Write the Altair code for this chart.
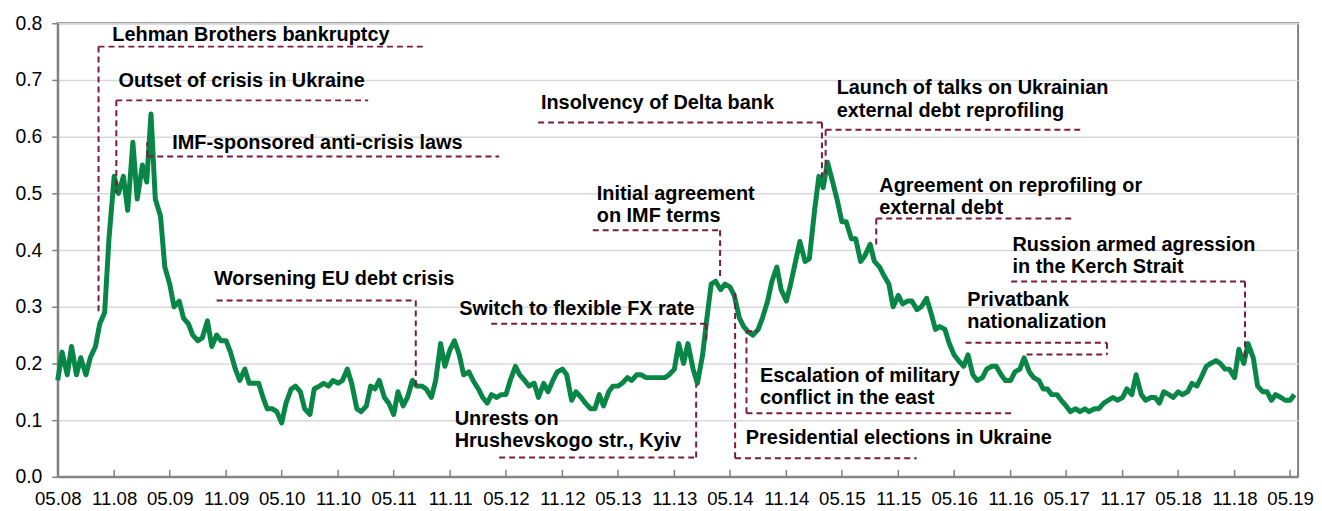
import altair as alt
import pandas as pd

# Semi-monthly readings (1st and 15th of each month) starting May 2008
values = [
    0.17, 0.22, 0.18, 0.23, 0.18, 0.21, 0.18, 0.21, 0.23, 0.27, 0.29, 0.42, 0.53, 0.50, 0.53, 0.47,
    0.59, 0.49, 0.55, 0.52, 0.64, 0.49, 0.46, 0.37, 0.34, 0.30, 0.31, 0.28, 0.27, 0.25, 0.24, 0.245,
    0.275, 0.23, 0.25, 0.24, 0.24, 0.22, 0.19, 0.17, 0.19, 0.165, 0.165, 0.165, 0.14, 0.12, 0.12, 0.115,
    0.095, 0.13, 0.155, 0.16, 0.15, 0.12, 0.11, 0.155, 0.16, 0.165, 0.16, 0.17, 0.165, 0.17, 0.19, 0.165,
    0.12, 0.115, 0.125, 0.16, 0.155, 0.17, 0.14, 0.13, 0.11, 0.15, 0.125, 0.14, 0.17, 0.16, 0.16, 0.155,
    0.14, 0.17, 0.235, 0.195, 0.225, 0.24, 0.215, 0.18, 0.185, 0.17, 0.155, 0.14, 0.13, 0.145, 0.14, 0.145,
    0.145, 0.17, 0.195, 0.18, 0.17, 0.16, 0.165, 0.14, 0.165, 0.15, 0.17, 0.185, 0.19, 0.18, 0.135, 0.15,
    0.14, 0.13, 0.12, 0.12, 0.145, 0.125, 0.15, 0.16, 0.16, 0.165, 0.175, 0.17, 0.18, 0.18, 0.175, 0.175,
    0.175, 0.175, 0.175, 0.18, 0.19, 0.235, 0.20, 0.235, 0.19, 0.165, 0.215, 0.28, 0.34, 0.345, 0.33, 0.34,
    0.335, 0.32, 0.28, 0.265, 0.255, 0.25, 0.26, 0.28, 0.31, 0.345, 0.37, 0.33, 0.31, 0.34, 0.38, 0.415,
    0.38, 0.385, 0.47, 0.53, 0.51, 0.555, 0.52, 0.49, 0.45, 0.45, 0.42, 0.42, 0.38, 0.39, 0.41, 0.38,
    0.37, 0.355, 0.34, 0.30, 0.32, 0.305, 0.31, 0.31, 0.295, 0.30, 0.315, 0.29, 0.26, 0.265, 0.26, 0.235,
    0.215, 0.205, 0.195, 0.215, 0.18, 0.17, 0.175, 0.19, 0.195, 0.195, 0.18, 0.17, 0.17, 0.185, 0.19, 0.21,
    0.185, 0.175, 0.17, 0.155, 0.155, 0.145, 0.145, 0.135, 0.125, 0.115, 0.12, 0.115, 0.12, 0.115, 0.12, 0.12,
    0.13, 0.135, 0.14, 0.135, 0.14, 0.155, 0.145, 0.18, 0.145, 0.135, 0.14, 0.14, 0.13, 0.15, 0.145, 0.14,
    0.15, 0.145, 0.15, 0.165, 0.16, 0.175, 0.195, 0.20, 0.205, 0.20, 0.19, 0.19, 0.175, 0.225, 0.20, 0.235,
    0.21, 0.16, 0.15, 0.15, 0.135, 0.145, 0.14, 0.135, 0.135, 0.145,
]
dates = pd.date_range("2008-05-01", periods=len(values), freq="SMS").strftime("%Y-%m-%d").tolist()

tick_dates = pd.date_range("2008-05-01", "2019-05-01", freq="6MS")
tick_strs = tick_dates.strftime("%Y-%m-%d").tolist()

# Annotation text lines: (left date, baseline value, text)
ann_x = ["2008-10-26", "2008-11-15", "2009-05-09", "2009-09-22", "2011-12-01",
         "2011-11-16", "2011-11-16", "2013-02-21", "2013-02-21", "2012-08-23",
         "2015-04-14", "2015-04-14", "2015-08-31", "2015-08-31", "2016-11-07",
         "2016-11-07", "2016-06-13", "2016-06-13", "2014-08-07", "2014-08-07",
         "2014-06-22"]
ann_y = [0.7693, 0.6877, 0.5784, 0.3386, 0.2847,
         0.0912, 0.0521, 0.4877, 0.4486, 0.6486,
         0.6749, 0.6339, 0.5023, 0.4632, 0.3988,
         0.3591, 0.3018, 0.2619, 0.1679, 0.1281,
         0.0574]
ann_text = ["Lehman Brothers bankruptcy", "Outset of crisis in Ukraine", "IMF-sponsored anti-crisis laws",
            "Worsening EU debt crisis", "Switch to flexible FX rate",
            "Unrests on", "Hrushevskogo str., Kyiv", "Initial agreement", "on IMF terms",
            "Insolvency of Delta bank", "Launch of talks on Ukrainian", "external debt reprofiling",
            "Agreement on reprofiling or", "external debt", "Russion armed agression",
            "in the Kerch Strait", "Privatbank", "nationalization", "Escalation of military",
            "conflict in the east", "Presidential elections in Ukraine"]

# Dashed leader segments
seg_x = ["2008-09-11", "2008-09-11", "2008-11-08", "2008-11-08", "2009-02-17", "2009-02-17",
         "2009-10-01", "2011-07-12", "2012-03-14", "2014-02-13", "2012-04-09", "2014-01-11",
         "2013-02-08", "2014-03-30", "2012-08-14", "2015-02-25", "2015-03-09", "2015-03-09",
         "2015-08-21", "2015-08-21", "2016-11-03", "2018-12-05", "2016-06-07", "2017-09-11",
         "2016-12-23", "2014-06-24", "2014-06-24", "2014-06-24", "2014-05-18", "2014-05-18"]
seg_x2 = ["2011-08-10", "2008-09-11", "2011-02-07", "2008-11-08", "2012-04-09", "2009-02-17",
          "2011-07-12", "2011-07-12", "2014-02-13", "2014-02-13", "2014-01-11", "2014-01-11",
          "2014-03-30", "2014-03-30", "2015-02-25", "2015-02-25", "2017-06-19", "2015-03-09",
          "2017-05-27", "2015-08-21", "2018-12-05", "2018-12-05", "2017-09-11", "2017-09-11",
          "2017-09-11", "2016-11-07", "2014-06-24", "2014-07-31", "2015-12-31", "2014-05-18"]
seg_y = [0.7588, 0.7588, 0.664, 0.664, 0.5649, 0.5649,
         0.311, 0.311, 0.270, 0.270, 0.0342, 0.0342,
         0.435, 0.435, 0.625, 0.625, 0.612, 0.612,
         0.4556, 0.4556, 0.3444, 0.3444, 0.2363, 0.2363,
         0.2158, 0.1123, 0.1123, 0.2567, 0.0328, 0.0328]
seg_y2 = [0.7588, 0.2912, 0.664, 0.50, 0.5649, 0.59,
          0.311, 0.158, 0.270, 0.242, 0.0342, 0.163,
          0.435, 0.3526, 0.625, 0.528, 0.612, 0.535,
          0.4556, 0.4058, 0.3444, 0.207, 0.2363, 0.2158,
          0.2158, 0.1123, 0.2567, 0.2567, 0.0328, 0.3298]

series = pd.DataFrame({"date": dates, "value": values})
ticks_df = pd.DataFrame({"date": tick_strs})
ann_df = pd.DataFrame({"date": ann_x, "value": ann_y, "label": ann_text})
seg_df = pd.DataFrame({"date": seg_x, "date2": seg_x2, "value": seg_y, "value2": seg_y2})

FONT = "Liberation Sans"
x_scale = alt.Scale(type="utc", domain=[alt.DateTime(year=2008, month=5, date=1, utc=True),
                                        alt.DateTime(year=2019, month=5, date=27, utc=True)], nice=False)
x_axis = alt.Axis(values=[alt.DateTime(year=d.year, month=d.month, date=1, utc=True) for d in tick_dates],
                  labelExpr="utcFormat(datum.value, '%m.%y')", title=None, ticks=False, grid=False,
                  labelOverlap=False, labelFlush=False, labelPadding=13, labelFontSize=18.7)
y_scale = alt.Scale(domain=[0, 0.8], nice=False)
y_axis = alt.Axis(values=[0, 0.1, 0.2, 0.3, 0.4, 0.5, 0.6, 0.7, 0.8], format=".1f", title=None,
                  grid=True, tickSize=6, labelPadding=10, labelFontSize=19.5)

X = alt.X("date:T", scale=x_scale, axis=x_axis)
Y = alt.Y("value:Q", scale=y_scale, axis=y_axis)

line = alt.Chart(series).mark_line(color="#078646", strokeWidth=5, strokeJoin="round").encode(x=X, y=Y)

xticks = alt.Chart(ticks_df).mark_rule(color="#808080", strokeWidth=1.5).encode(
    x=X, y=alt.value(456), y2=alt.value(449))

leaders = alt.Chart(seg_df).mark_rule(color="#7A1B3F", strokeWidth=2, strokeDash=[6, 4]).encode(
    x=X, x2="date2:T", y=Y, y2="value2:Q")

texts = alt.Chart(ann_df).mark_text(align="left", baseline="alphabetic", font=FONT, fontSize=20,
                                    fontWeight="bold", color="black").encode(x=X, y=Y, text="label:N")

chart = alt.layer(line, xticks, leaders, texts).properties(
    width=1247, height=456,
    padding={"left": 50, "top": 14, "right": 16, "bottom": 33},
    autosize=alt.AutoSizeParams(type="none"),
).configure_view(stroke="#808080", strokeWidth=2).configure_axis(
    domainColor="#808080", domainWidth=2, gridColor="#d9d9d9", gridWidth=1.5,
    labelFont=FONT, labelColor="#000000", tickColor="#808080", tickWidth=1.5,
)

chart.save("out.html", embed_options={"renderer": "svg", "actions": False})
